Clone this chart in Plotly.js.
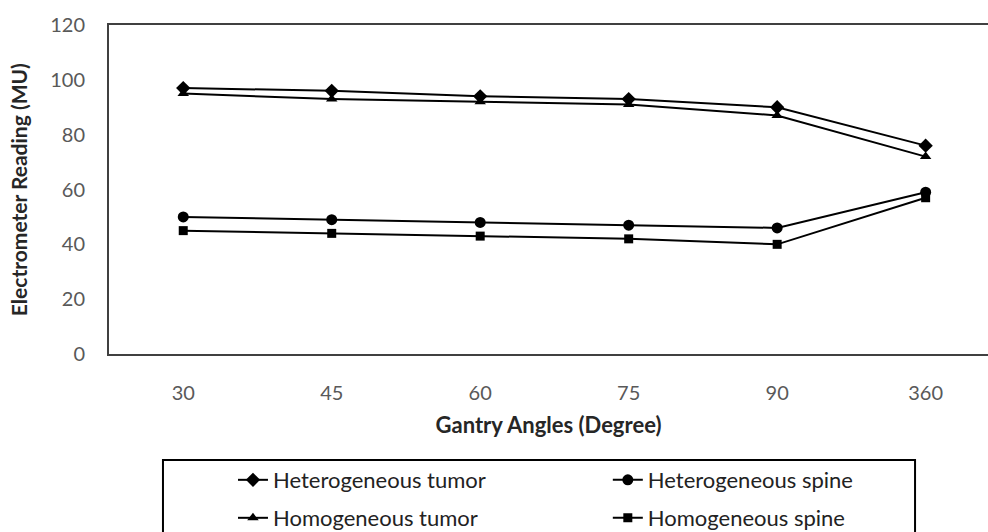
<!DOCTYPE html>
<html>
<head>
<meta charset="utf-8">
<script src="https://cdn.plot.ly/plotly-3.0.1.min.js"></script>
<style>html,body{margin:0;padding:0;background:#fff;}#chart{width:988px;height:532px;}</style>
</head>
<body>
<div id="chart"></div>
<script>
const angles = ['30', '45', '60', '75', '90', '360'];
const hetTumor = [97, 96, 94, 93, 90, 76];
const hetSpine = [50, 49, 48, 47, 46, 59];
const homTumor = [95, 93, 92, 91, 87, 72];
const homSpine = [45, 44, 43, 42, 40, 57];
const yTicks = [0, 20, 40, 60, 80, 100, 120];

const font = 'Lato, "Open Sans", sans-serif';
function tr(name, y, symbol, size, legend) {
  return {
    type: 'scatter', mode: 'lines+markers', name: name,
    x: angles, y: y, legend: legend,
    line: {color: '#000', width: 2},
    marker: {symbol: symbol, size: size, color: '#000'}
  };
}
const data = [
  tr('Heterogeneous tumor', hetTumor, 'diamond', 11, 'legend'),
  tr('Heterogeneous spine', hetSpine, 'circle', 11, 'legend2'),
  tr('Homogeneous tumor', homTumor, 'triangle-up', 10, 'legend3'),
  tr('Homogeneous spine', homSpine, 'square', 9, 'legend4')
];
function leg(x, y) {
  return {
    x: x, y: y, xref: 'container', yref: 'container',
    orientation: 'h', xanchor: 'left', yanchor: 'middle',
    font: {family: font, size: 22, color: '#222'},
    bgcolor: 'rgba(0,0,0,0)', borderwidth: 0
  };
}
const layout = {
  width: 988, height: 532,
  margin: {l: 109, r: 0, t: 25, b: 178, autoexpand: false},
  paper_bgcolor: '#fff', plot_bgcolor: '#fff',
  font: {family: font},
  xaxis: {
    type: 'category', range: [-0.5, 5.42],
    showline: true, mirror: true, linecolor: '#404040', linewidth: 2,
    showgrid: false, zeroline: false, ticks: '',
    ticklabelstandoff: 20,
    tickfont: {family: font, size: 20, color: '#595959'},
    title: {text: '<b>Gantry Angles (Degree)</b>', font: {family: font, size: 22, color: '#262626'}, standoff: 15}
  },
  yaxis: {
    range: [0, 120], tickvals: yTicks, ticktext: yTicks.map(String),
    showline: true, mirror: false, linecolor: '#404040', linewidth: 2,
    showgrid: false, zeroline: false, ticks: '',
    ticklabelstandoff: 18,
    tickfont: {family: font, size: 20, color: '#595959'}
  },
  annotations: [{
    text: '<b>Electrometer Reading (MU)</b>', textangle: -90,
    xref: 'paper', yref: 'paper', x: -0.1035, y: 0.498,
    xanchor: 'center', yanchor: 'middle', showarrow: false,
    font: {family: font, size: 21, color: '#262626'}
  }],
  showlegend: true,
  legend: leg(0.2358, 0.0977),
  legend2: leg(0.6152, 0.0977),
  legend3: leg(0.2358, 0.0263),
  legend4: leg(0.6152, 0.0263),
  shapes: [{
    type: 'rect', xref: 'paper', yref: 'paper',
    x0: 0.0614, x1: 0.917, y0: -0.322, y1: -0.65,
    line: {color: '#000', width: 2}, fillcolor: 'rgba(0,0,0,0)'
  }]
};
Plotly.newPlot('chart', data, layout, {displayModeBar: false, staticPlot: true});
</script>
</body>
</html>
